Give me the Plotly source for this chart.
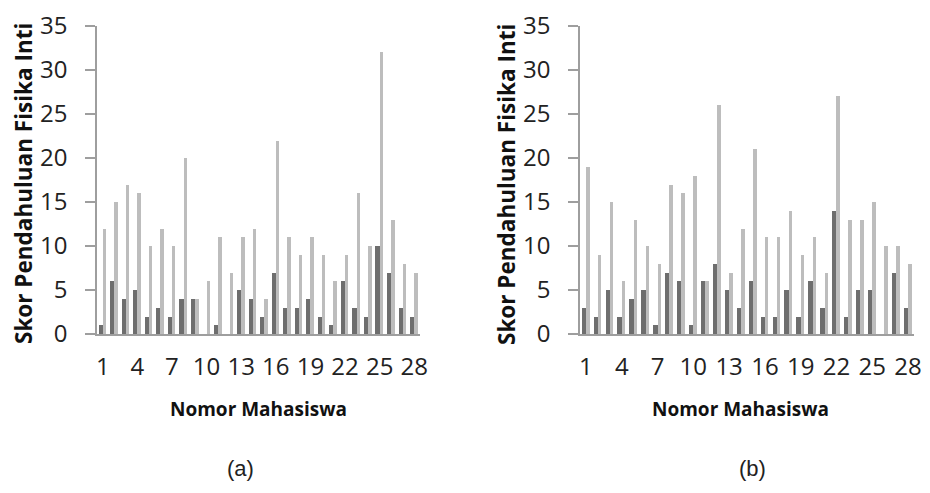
import plotly.graph_objects as go

students = list(range(1, 29))
a_dark = [1, 6, 4, 5, 2, 3, 2, 4, 4, 0, 1, 0, 5, 4, 2, 7, 3, 3, 4, 2, 1, 6, 3, 2, 10, 7, 3, 2]
a_light = [12, 15, 17, 16, 10, 12, 10, 20, 4, 6, 11, 7, 11, 12, 4, 22, 11, 9, 11, 9, 6, 9, 16, 10, 32, 13, 8, 7]
b_dark = [3, 2, 5, 2, 4, 5, 1, 7, 6, 1, 6, 8, 5, 3, 6, 2, 2, 5, 2, 6, 3, 14, 2, 5, 5, 0, 7, 3]
b_light = [19, 9, 15, 6, 13, 10, 8, 17, 16, 18, 6, 26, 7, 12, 21, 11, 11, 14, 9, 11, 7, 27, 13, 13, 15, 10, 10, 8]
x_ticks = [1, 4, 7, 10, 13, 16, 19, 22, 25, 28]
y_ticks = [0, 5, 10, 15, 20, 25, 30, 35]
y_title = "Skor Pendahuluan Fisika Inti"
x_title = "Nomor Mahasiswa"
panel_labels = ["(a)", "(b)"]

DARK = "#6e6e6e"
LIGHT = "#bdbdbd"
AXIS = "#9e9e9e"
# the page body has an 8px margin, so the figure is sized to fill the rest of the window
W, H = 922, 485

fig = go.Figure()
for i, (d, l) in enumerate([(a_dark, a_light), (b_dark, b_light)]):
    xa = "x" if i == 0 else "x2"
    ya = "y" if i == 0 else "y2"
    fig.add_trace(go.Bar(x=students, y=d, marker=dict(color=DARK, line_width=0),
                         width=0.36, offset=-0.36, xaxis=xa, yaxis=ya, showlegend=False))
    fig.add_trace(go.Bar(x=students, y=l, marker=dict(color=LIGHT, line_width=0),
                         width=0.3, offset=0.0, xaxis=xa, yaxis=ya, showlegend=False))

xdoms = [[89 / W, 412 / W], [572 / W, 906 / W]]
ydom = [(H - 326) / H, (H - 17.7) / H]
tickfont = dict(family="Open Sans", size=24, color="#222222")

common_x = dict(range=[0.5, 28.5], tickvals=x_ticks, ticktext=[str(v) for v in x_ticks],
                showline=True, linecolor=AXIS, linewidth=1.5, showgrid=False, zeroline=False,
                ticks="", tickfont=tickfont, ticklabelstandoff=10, automargin=False,
                ticklabeloverflow="allow")
common_y = dict(range=[0, 35], tickvals=y_ticks, showline=True, linecolor=AXIS, linewidth=1.5,
                showgrid=False, zeroline=False, ticks="outside", ticklen=10, tickcolor=AXIS,
                tickwidth=1.5, tickfont=tickfont, ticklabelstandoff=13, automargin=False)

fig.update_layout(
    width=W, height=H, margin=dict(l=0, r=0, t=0, b=0, autoexpand=False),
    paper_bgcolor="white", plot_bgcolor="white", bargap=0,
    xaxis=dict(domain=xdoms[0], anchor="y", **common_x),
    yaxis=dict(domain=ydom, anchor="x", **common_y),
    xaxis2=dict(domain=xdoms[1], anchor="y2", **common_x),
    yaxis2=dict(domain=ydom, anchor="x2", **common_y),
)

title_font = dict(family="Open Sans", size=19, color="#111111")
ytitle_font = dict(family="Open Sans", size=22.5, color="#111111")
ann = []
for xc_ytitle, xc_xtitle, xc_lab, lab in [(15, 250, 232, panel_labels[0]), (498, 732, 744, panel_labels[1])]:
    ann.append(dict(x=xc_ytitle / W, y=1 - 176 / H, xref="paper", yref="paper", text="<b>" + y_title + "</b>",
                    textangle=-90, showarrow=False, font=ytitle_font, xanchor="center", yanchor="middle",
                    borderpad=0))
    ann.append(dict(x=xc_xtitle / W, y=1 - 401 / H, xref="paper", yref="paper", text="<b>" + x_title + "</b>",
                    showarrow=False, font=title_font, xanchor="center", yanchor="middle"))
    ann.append(dict(x=xc_lab / W, y=1 - 460 / H, xref="paper", yref="paper", text=lab,
                    showarrow=False, font=dict(family="Liberation Sans", size=22, color="#222222"),
                    xanchor="center", yanchor="middle"))
fig.update_layout(annotations=ann)

fig.write_html("out.html")
